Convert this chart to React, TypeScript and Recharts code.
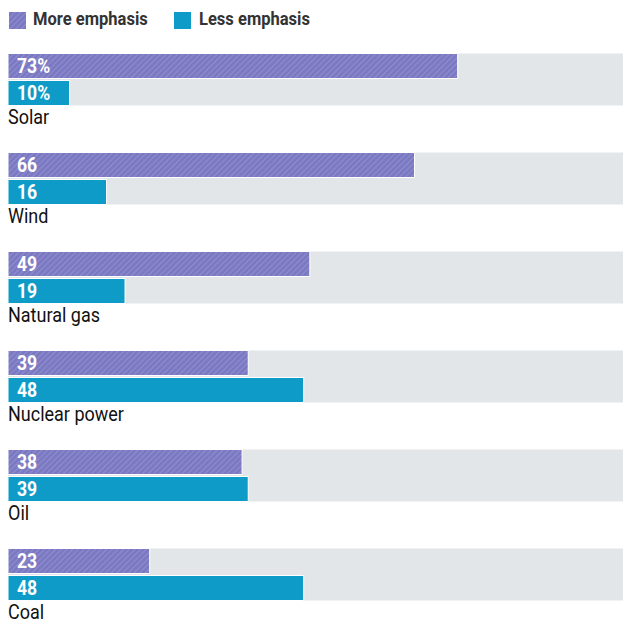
import React from 'react';
import { BarChart, Bar, XAxis, YAxis, Legend, LabelList } from 'recharts';

const categories = ['Solar', 'Wind', 'Natural gas', 'Nuclear power', 'Oil', 'Coal'];
const moreEmphasis = [73, 66, 49, 39, 38, 23];
const lessEmphasis = [10, 16, 19, 48, 39, 48];

const data = categories.map((name, i) => ({ name, more: moreEmphasis[i], less: lessEmphasis[i] }));

const PURPLE = '#7b79c2';
const STRIPE = '#9593d2';
const TEAL = '#0f9bc7';
const GREY = '#e3e6e9';
const FONT = "'Roboto', sans-serif";

const BAR = 25;
const GAP = 2;

const legendText: React.CSSProperties = {
  position: 'absolute',
  top: 0,
  lineHeight: '22px',
  whiteSpace: 'nowrap',
  transform: 'scaleX(0.87)',
  transformOrigin: 'left center',
};

const LegendContent = () => (
  <div style={{ height: 21.5, position: 'relative', fontFamily: FONT, fontWeight: 700, fontSize: 19, color: '#333' }}>
    <svg width={17} height={17} style={{ position: 'absolute', left: 1, top: 4 }}>
      <rect width={17} height={17} fill="url(#hatch)" />
    </svg>
    <span style={{ ...legendText, left: 25 }}>More emphasis</span>
    <div style={{ position: 'absolute', left: 166, top: 4, width: 17, height: 17, background: TEAL }} />
    <span style={{ ...legendText, left: 191 }}>Less emphasis</span>
  </div>
);

const makeLabel = (withPct: boolean) => (props: any) => {
  const { x, y, height, value, index } = props;
  return (
    <text
      transform={`translate(${x + 9},${y + height / 2 + 1}) scale(0.88,1)`}
      fill="#fff"
      fontFamily={FONT}
      fontWeight={700}
      fontSize={20}
      dominantBaseline="central"
    >
      {value}
      {withPct && index === 0 ? '%' : ''}
    </text>
  );
};

const CategoryLabel = (props: any) => {
  const { x, y, height, index } = props;
  return (
    <text
      transform={`translate(${x},${y + height + 18.5}) scale(0.9,1)`}
      fill="#111"
      fontFamily={FONT}
      fontSize={20}
    >
      {categories[index]}
    </text>
  );
};

const GreyBackground = (props: any) => {
  const { x, y, width } = props;
  return <rect x={x} y={y} width={width + 3} height={BAR * 2 + GAP} fill={GREY} />;
};

export default function App() {
  return (
    <BarChart
      width={623}
      height={616}
      data={data}
      layout="vertical"
      barSize={BAR}
      barGap={GAP}
      margin={{ top: 0, right: 7, bottom: 0.5, left: 0 }}
    >
      <defs>
        <pattern id="hatch" patternUnits="userSpaceOnUse" width={4} height={4} patternTransform="rotate(45)">
          <rect width={4} height={4} fill={PURPLE} />
          <line x1={0} y1={0} x2={0} y2={4} stroke={STRIPE} strokeWidth={1.6} />
        </pattern>
      </defs>
      <Legend verticalAlign="top" align="left" content={LegendContent} />
      <XAxis type="number" domain={[0, 100]} hide />
      <YAxis type="category" dataKey="name" hide />
      <Bar dataKey="more" fill="url(#hatch)" stroke="#fff" strokeWidth={1} background={GreyBackground} isAnimationActive={false}>
        <LabelList dataKey="more" content={makeLabel(true)} />
      </Bar>
      <Bar dataKey="less" fill={TEAL} stroke="#fff" strokeWidth={1} isAnimationActive={false}>
        <LabelList dataKey="less" content={makeLabel(true)} />
        <LabelList dataKey="name" content={CategoryLabel} />
      </Bar>
    </BarChart>
  );
}
